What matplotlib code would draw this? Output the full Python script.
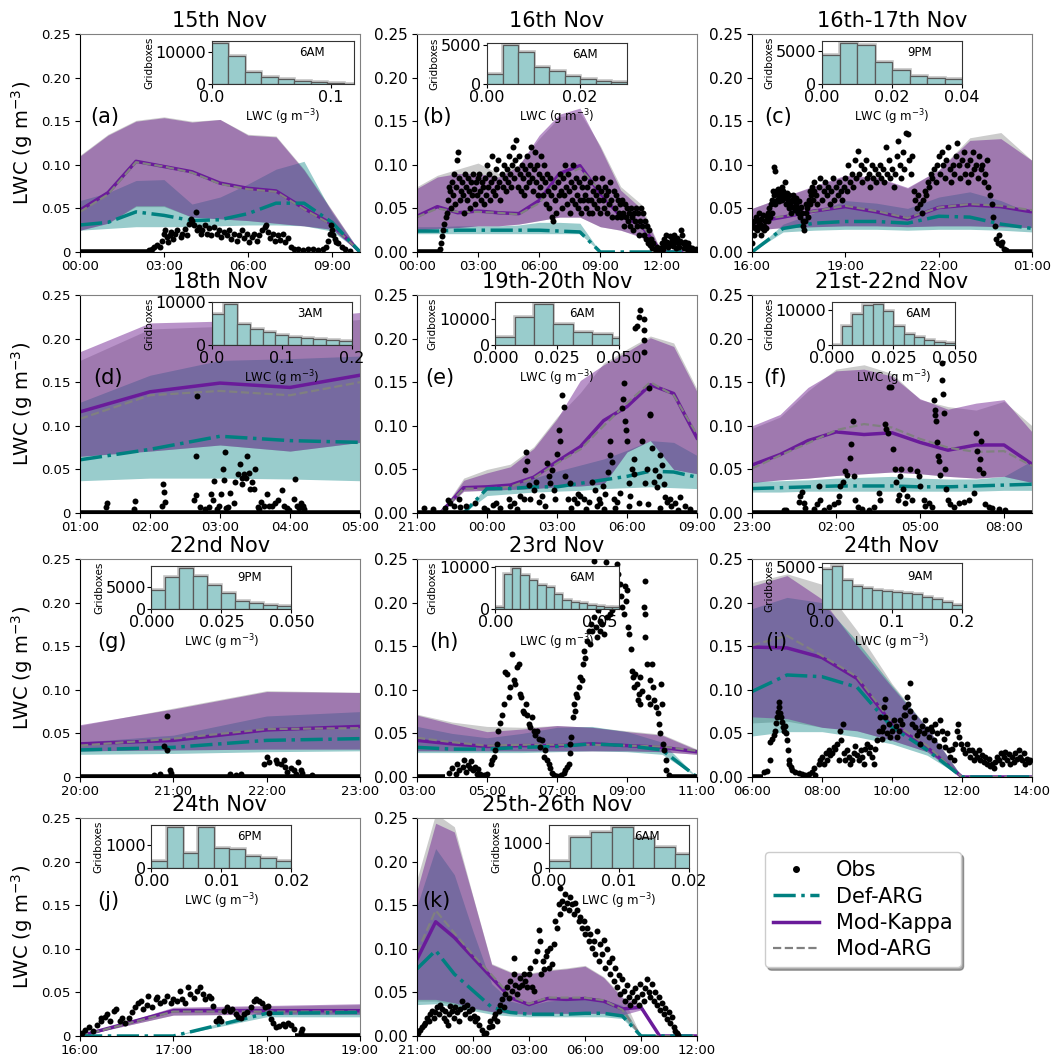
import numpy as np
import matplotlib.pyplot as plt
from matplotlib.lines import Line2D

# ---------------------------------------------------------------------------
# data: model series are hourly values starting at each panel's first hour
# (def = Def-ARG, kap = Mod-Kappa, arg = Mod-ARG; _lo/_hi = shaded range)
# obs = (hours since panel start, LWC); zero = spans where obs sit on 0
# ---------------------------------------------------------------------------
a_def = [0.031, 0.034, 0.046, 0.042, 0.036, 0.037, 0.044, 0.056, 0.056, 0.034, 0.0]
a_def_lo = [0.025, 0.027, 0.029, 0.029, 0.029, 0.030, 0.031, 0.031, 0.030, 0.024, 0.0]
a_def_hi = [0.059, 0.068, 0.082, 0.083, 0.055, 0.063, 0.078, 0.095, 0.104, 0.045, 0.0]
a_kap = [0.048, 0.068, 0.104, 0.098, 0.092, 0.079, 0.073, 0.070, 0.050, 0.032, 0.0]
a_kap_lo = [0.025, 0.033, 0.053, 0.053, 0.040, 0.038, 0.036, 0.033, 0.030, 0.026, 0.0]
a_kap_hi = [0.110, 0.134, 0.150, 0.154, 0.149, 0.152, 0.134, 0.132, 0.094, 0.047, 0.0]
a_arg = [0.046, 0.066, 0.103, 0.098, 0.091, 0.078, 0.072, 0.069, 0.049, 0.031, 0.0]
a_arg_lo = [0.025, 0.033, 0.052, 0.052, 0.040, 0.038, 0.036, 0.033, 0.030, 0.026, 0.0]
a_arg_hi = [0.111, 0.135, 0.151, 0.155, 0.150, 0.152, 0.135, 0.133, 0.095, 0.048, 0.0]
a_zero = [(0, 2.6)]
a_obs = [(2.46, .002), (2.57, .004), (2.66, .006), (2.75, .008), (2.85, .006), (2.93, .013),
         (2.99, .021), (3.03, .025), (3.09, .017), (3.15, .011), (3.21, .019), (3.26, .023),
         (3.33, .015), (3.41, .021), (3.47, .025), (3.59, .017), (3.65, .021), (3.74, .026),
         (3.81, .019), (3.89, .032), (3.95, .038), (4.01, .036), (4.07, .031), (4.13, .046),
         (4.17, .025), (4.25, .029), (4.31, .021), (4.37, .025), (4.46, .031), (4.53, .021),
         (4.61, .027), (4.69, .019), (4.79, .029), (4.89, .021), (4.97, .025), (5.05, .017),
         (5.15, .023), (5.25, .019), (5.33, .025), (5.41, .015), (5.51, .021), (5.6, .013),
         (5.69, .019), (5.77, .025), (5.87, .016), (5.96, .021), (6.05, .011), (6.13, .017),
         (6.23, .021), (6.32, .013), (6.41, .019), (6.49, .025), (6.59, .029), (6.65, .031),
         (6.71, .023), (6.8, .016), (6.89, .021), (6.97, .013), (7.07, .019), (7.16, .014),
         (7.25, .021), (7.33, .011), (7.43, .016), (7.52, .006), (7.64, .003), (7.78, .004),
         (7.96, .002), (8.14, .003), (8.32, .004), (8.5, .002), (8.68, .004), (8.8, .006),
         (8.86, .013), (8.92, .021), (8.96, .031), (9.01, .025), (9.05, .019), (9.1, .015),
         (9.16, .011), (9.22, .01), (9.34, .006), (9.46, .004), (9.64, .001)]
a_hist = [12800, 8600, 3700, 2100, 1600, 1050, 740, 320, 100]

b_def = [0.024, 0.024, 0.025, 0.025, 0.025, 0.025, 0.025, 0.024, 0.023, 0.0, 0.0, 0.0, 0.0, 0.0]
b_def_lo = [0.021, 0.021, 0.021, 0.021, 0.021, 0.021, 0.021, 0.021, 0.021, 0.0, 0.0, 0.0, 0.0, 0.0]
b_def_hi = [0.029, 0.029, 0.030, 0.030, 0.030, 0.031, 0.034, 0.034, 0.033, 0.0, 0.0, 0.0, 0.0, 0.0]
b_kap = [0.041, 0.052, 0.045, 0.047, 0.045, 0.044, 0.059, 0.090, 0.099, 0.067, 0.041, 0.031, 0.0, 0.0]
b_kap_lo = [0.025, 0.027, 0.028, 0.030, 0.030, 0.032, 0.036, 0.040, 0.040, 0.029, 0.025, 0.017, 0.0, 0.0]
b_kap_hi = [0.073, 0.086, 0.090, 0.090, 0.086, 0.099, 0.134, 0.158, 0.165, 0.120, 0.071, 0.050, 0.0, 0.0]
b_arg = [0.040, 0.050, 0.046, 0.046, 0.045, 0.043, 0.056, 0.086, 0.096, 0.070, 0.044, 0.033, 0.0, 0.0]
b_arg_lo = [0.025, 0.027, 0.028, 0.030, 0.030, 0.032, 0.036, 0.040, 0.040, 0.029, 0.025, 0.018, 0.0, 0.0]
b_arg_hi = [0.075, 0.088, 0.095, 0.102, 0.090, 0.100, 0.130, 0.155, 0.160, 0.122, 0.075, 0.055, 0.0, 0.0]
b_zero = [(0, 1.15)]
b_obs = [(1.15, .003), (1.2, .01), (1.25, .018), (1.3, .025), (1.35, .032), (1.4, .04), (1.45, .045),
         (1.5, .06), (1.55, .075), (1.6, .07), (1.65, .05), (1.7, .08), (1.75, .065), (1.8, .09),
         (1.85, .055), (1.9, .075), (1.95, .105), (2.0, .115), (2.05, .085), (2.1, .06), (2.15, .07),
         (2.2, .08), (2.25, .065), (2.3, .045), (2.35, .09), (2.4, .075), (2.45, .06), (2.5, .085),
         (2.55, .07), (2.6, .05), (2.65, .08), (2.7, .065), (2.75, .09), (2.8, .072), (2.85, .055),
         (2.9, .08), (2.95, .065), (3.0, .085), (3.05, .09), (3.1, .07), (3.15, .06), (3.2, .08),
         (3.25, .075), (3.3, .055), (3.35, .085), (3.4, .065), (3.45, .1), (3.5, .075), (3.55, .09),
         (3.6, .06), (3.65, .08), (3.7, .11), (3.75, .07), (3.8, .085), (3.85, .065), (3.9, .095),
         (3.95, .075), (4.0, .105), (4.05, .08), (4.1, .06), (4.15, .09), (4.2, .075), (4.25, .1),
         (4.3, .085), (4.35, .07), (4.4, .095), (4.45, .08), (4.5, .11), (4.55, .09), (4.6, .075),
         (4.65, .1), (4.7, .12), (4.75, .085), (4.8, .105), (4.85, .128), (4.9, .095), (4.95, .075),
         (5.0, .11), (5.05, .09), (5.1, .07), (5.15, .1), (5.2, .085), (5.25, .065), (5.3, .095),
         (5.35, .075), (5.4, .11), (5.45, .09), (5.5, .08), (5.55, .1), (5.6, .12), (5.65, .085),
         (5.7, .07), (5.75, .095), (5.8, .115), (5.85, .08), (5.9, .1), (5.95, .065), (6.0, .09),
         (6.05, .075), (6.1, .11), (6.15, .085), (6.2, .065), (6.25, .1), (6.3, .08), (6.35, .055),
         (6.4, .09), (6.45, .07), (6.5, .05), (6.55, .085), (6.6, .065), (6.65, .04), (6.7, .035),
         (6.75, .075), (6.8, .06), (6.85, .045), (6.9, .08), (6.95, .065), (7.0, .09), (7.05, .07),
         (7.1, .05), (7.15, .085), (7.2, .065), (7.25, .1), (7.3, .075), (7.35, .055), (7.4, .09),
         (7.45, .07), (7.5, .045), (7.55, .08), (7.6, .06), (7.65, .1), (7.7, .075), (7.75, .055),
         (7.8, .085), (7.85, .065), (7.9, .05), (7.95, .08), (8.0, .06), (8.05, .045), (8.1, .075),
         (8.15, .06), (8.2, .085), (8.25, .065), (8.3, .05), (8.35, .075), (8.4, .06), (8.45, .045),
         (8.5, .08), (8.55, .06), (8.6, .045), (8.65, .07), (8.7, .055), (8.75, .085), (8.8, .065),
         (8.85, .05), (8.9, .075), (8.95, .06), (9.0, .045), (9.05, .07), (9.1, .085), (9.15, .06),
         (9.2, .05), (9.25, .075), (9.3, .065), (9.35, .045), (9.4, .07), (9.45, .055), (9.5, .08),
         (9.55, .06), (9.6, .04), (9.65, .07), (9.7, .05), (9.75, .065), (9.8, .04), (9.85, .06),
         (9.9, .045), (9.95, .055), (10.0, .04), (10.05, .06), (10.1, .045), (10.15, .03),
         (10.2, .055), (10.25, .04), (10.3, .05), (10.35, .035), (10.4, .045), (10.45, .03),
         (10.5, .05), (10.55, .04), (10.6, .025), (10.65, .045), (10.7, .035), (10.75, .05),
         (10.8, .03), (10.85, .045), (10.9, .02), (10.95, .035), (11.0, .05), (11.05, .03),
         (11.1, .045), (11.15, .02), (11.2, .035), (11.25, .015), (11.3, .03), (11.35, .01),
         (11.4, .025), (11.45, .008), (11.5, .015), (11.55, .005), (11.6, .01), (11.7, .003),
         (11.8, .006), (11.9, .002), (12.0, .005), (12.05, .01), (12.1, .004), (12.15, .015),
         (12.2, .008), (12.25, .02), (12.3, .012), (12.35, .006), (12.4, .018), (12.45, .01),
         (12.5, .015), (12.55, .007), (12.6, .02), (12.65, .012), (12.7, .005), (12.75, .016),
         (12.8, .01), (12.85, .006), (12.9, .013), (12.95, .025), (13.0, .02), (13.05, .01),
         (13.1, .005), (13.15, .012), (13.2, .008), (13.25, .004), (13.3, .01), (13.35, .006),
         (13.4, .003), (13.5, .005), (13.6, .002), (13.7, .004)]
b_hist = [1240, 5000, 4100, 2200, 1640, 1000, 680, 440, 320]

c_def = [0.0, 0.027, 0.033, 0.035, 0.035, 0.033, 0.041, 0.040, 0.032, 0.027]
c_def_lo = [0.0, 0.023, 0.025, 0.026, 0.026, 0.025, 0.026, 0.026, 0.025, 0.023]
c_def_hi = [0.0, 0.032, 0.045, 0.059, 0.056, 0.050, 0.063, 0.069, 0.059, 0.044]
c_kap = [0.034, 0.040, 0.047, 0.052, 0.046, 0.038, 0.051, 0.054, 0.052, 0.046]
c_kap_lo = [0.025, 0.028, 0.029, 0.030, 0.030, 0.029, 0.030, 0.030, 0.029, 0.028]
c_kap_hi = [0.050, 0.063, 0.076, 0.088, 0.086, 0.074, 0.094, 0.128, 0.130, 0.105]
c_arg = [0.036, 0.041, 0.047, 0.053, 0.047, 0.039, 0.051, 0.055, 0.053, 0.048]
c_arg_lo = [0.025, 0.028, 0.029, 0.030, 0.030, 0.029, 0.030, 0.030, 0.029, 0.028]
c_arg_hi = [0.050, 0.063, 0.075, 0.087, 0.085, 0.073, 0.094, 0.131, 0.137, 0.105]
c_zero = [(8.2, 9.0)]
c_obs = [(0.0, .01), (0.02, .03), (0.05, .02), (0.08, .035), (0.1, .028), (0.12, .04), (0.15, .025),
         (0.18, .035), (0.2, .03), (0.22, .045), (0.25, .032), (0.28, .02), (0.3, .038), (0.33, .028),
         (0.35, .042), (0.38, .03), (0.4, .025), (0.43, .035), (0.45, .028), (0.48, .04), (0.5, .045),
         (0.53, .035), (0.55, .05), (0.58, .04), (0.6, .055), (0.63, .045), (0.65, .06), (0.68, .07),
         (0.7, .065), (0.72, .098), (0.73, .093), (0.75, .055), (0.78, .07), (0.8, .06), (0.83, .072),
         (0.85, .065), (0.88, .058), (0.9, .068), (0.93, .062), (0.95, .075), (0.98, .06), (1.0, .07),
         (1.03, .065), (1.05, .08), (1.08, .062), (1.1, .055), (1.13, .068), (1.15, .06), (1.18, .05),
         (1.2, .065), (1.23, .055), (1.25, .045), (1.28, .06), (1.3, .052), (1.33, .065), (1.35, .058),
         (1.38, .048), (1.4, .055), (1.43, .062), (1.45, .05), (1.48, .045), (1.5, .058), (1.53, .05),
         (1.55, .04), (1.58, .052), (1.6, .045), (1.63, .035), (1.65, .03), (1.68, .025), (1.7, .035),
         (1.73, .045), (1.75, .055), (1.78, .05), (1.8, .04), (1.83, .06), (1.85, .07), (1.88, .055),
         (1.9, .065), (1.93, .075), (1.95, .06), (1.98, .07), (2.0, .08), (2.05, .065), (2.1, .055),
         (2.15, .075), (2.2, .085), (2.25, .06), (2.3, .07), (2.35, .08), (2.4, .065), (2.45, .075),
         (2.5, .055), (2.55, .07), (2.6, .085), (2.65, .06), (2.7, .075), (2.75, .065), (2.8, .08),
         (2.85, .07), (2.9, .06), (2.95, .075), (3.0, .085), (3.05, .07), (3.1, .1), (3.15, .08),
         (3.2, .09), (3.25, .075), (3.3, .105), (3.35, .085), (3.4, .116), (3.45, .09), (3.5, .1),
         (3.55, .08), (3.6, .095), (3.65, .105), (3.7, .085), (3.75, .09), (3.8, .075), (3.85, .1),
         (3.9, .085), (3.95, .095), (4.0, .08), (4.05, .09), (4.1, .1), (4.15, .085), (4.2, .095),
         (4.25, .08), (4.3, .12), (4.35, .09), (4.4, .105), (4.45, .085), (4.5, .095), (4.55, .075),
         (4.6, .09), (4.65, .11), (4.7, .127), (4.75, .1), (4.8, .085), (4.85, .115), (4.9, .095),
         (4.95, .137), (5.0, .135), (5.05, .105), (5.1, .09), (5.15, .11), (5.2, .07), (5.25, .06),
         (5.3, .05), (5.35, .065), (5.4, .055), (5.45, .045), (5.5, .06), (5.55, .07), (5.6, .065),
         (5.65, .08), (5.7, .075), (5.75, .09), (5.8, .085), (5.85, .095), (5.9, .08), (5.95, .1),
         (6.0, .11), (6.05, .09), (6.1, .115), (6.15, .1), (6.2, .085), (6.25, .105), (6.3, .12),
         (6.35, .095), (6.4, .08), (6.45, .1), (6.5, .09), (6.55, .11), (6.6, .125), (6.65, .1),
         (6.7, .085), (6.75, .105), (6.8, .115), (6.85, .09), (6.9, .1), (6.95, .08), (7.0, .105),
         (7.05, .09), (7.1, .115), (7.15, .095), (7.2, .1), (7.25, .085), (7.3, .11), (7.35, .095),
         (7.4, .1), (7.45, .08), (7.5, .09), (7.55, .105), (7.6, .075), (7.65, .065), (7.7, .055),
         (7.75, .04), (7.8, .03), (7.85, .015), (7.9, .01), (7.95, .02), (8.0, .008), (8.05, .012),
         (8.1, .004), (8.15, .002)]
c_hist = [4400, 6250, 5900, 3400, 2100, 1260, 860, 700]

d_def = [0.061, 0.073, 0.088, 0.083, 0.081]
d_def_lo = [0.037, 0.040, 0.040, 0.039, 0.037]
d_def_hi = [0.127, 0.158, 0.175, 0.177, 0.180]
d_kap = [0.116, 0.139, 0.149, 0.144, 0.158]
d_kap_lo = [0.065, 0.071, 0.078, 0.071, 0.081]
d_kap_hi = [0.185, 0.218, 0.220, 0.222, 0.230]
d_arg = [0.108, 0.135, 0.140, 0.135, 0.150]
d_arg_lo = [0.065, 0.071, 0.078, 0.071, 0.081]
d_arg_hi = [0.175, 0.211, 0.214, 0.215, 0.222]
d_zero = [(0, 4)]
d_obs = [(0.37, .007), (0.38, .012), (0.77, .005), (0.78, .014), (1.17, .008), (1.18, .033),
         (1.2, .024), (1.22, .013), (1.63, .015), (1.65, .021), (1.65, .065), (1.67, .134),
         (1.72, .007), (1.79, .005), (1.84, .007), (1.87, .022), (1.9, .015), (1.91, .037),
         (1.95, .005), (1.99, .008), (2.01, .022), (2.04, .051), (2.05, .038), (2.07, .07),
         (2.08, .006), (2.11, .007), (2.14, .023), (2.2, .012), (2.22, .035), (2.26, .045),
         (2.29, .056), (2.31, .04), (2.32, .033), (2.34, .045), (2.37, .04), (2.39, .065),
         (2.42, .046), (2.43, .027), (2.45, .035), (2.48, .027), (2.5, .051), (2.54, .007),
         (2.56, .005), (2.58, .013), (2.63, .008), (2.67, .022), (2.7, .008), (2.74, .008),
         (2.78, .012), (2.83, .015), (2.89, .026), (2.92, .008), (2.96, .006), (2.99, .003),
         (3.05, .016), (3.07, .039), (3.1, .008), (3.13, .006), (3.16, .011), (3.18, .008), (3.2, .005)]
d_hist = [7200, 9600, 4900, 3750, 3100, 2400, 1800, 1560, 1400, 1250, 1000]

e_def = [0.0, 0.0, 0.0, 0.028, 0.028, 0.030, 0.030, 0.034, 0.038, 0.042, 0.048, 0.047, 0.041]
e_def_lo = [0.0, 0.0, 0.0, 0.020, 0.022, 0.024, 0.025, 0.026, 0.028, 0.029, 0.030, 0.029, 0.028]
e_def_hi = [0.0, 0.0, 0.0, 0.031, 0.034, 0.040, 0.048, 0.055, 0.062, 0.072, 0.083, 0.081, 0.066]
e_kap = [0.0, 0.0, 0.029, 0.030, 0.032, 0.041, 0.059, 0.076, 0.106, 0.122, 0.147, 0.137, 0.086]
e_kap_lo = [0.0, 0.0, 0.025, 0.026, 0.027, 0.028, 0.030, 0.031, 0.033, 0.070, 0.083, 0.050, 0.045]
e_kap_hi = [0.0, 0.0, 0.0375, 0.046, 0.053, 0.074, 0.108, 0.152, 0.170, 0.185, 0.201, 0.191, 0.139]
e_arg = [0.0, 0.0, 0.028, 0.028, 0.030, 0.040, 0.057, 0.073, 0.100, 0.126, 0.150, 0.135, 0.090]
e_arg_lo = [0.0, 0.0, 0.025, 0.026, 0.027, 0.028, 0.030, 0.031, 0.033, 0.070, 0.083, 0.050, 0.045]
e_arg_hi = [0.0, 0.0, 0.040, 0.050, 0.056, 0.076, 0.110, 0.138, 0.172, 0.188, 0.203, 0.195, 0.142]
e_zero = [(0, 12)]
e_obs = [(0.29, .006), (0.69, .005), (1.21, .006), (1.31, .015), (1.43, .011), (1.57, .008),
         (1.79, .016), (1.86, .007), (2.11, .008), (2.5, .011), (2.86, .006), (3.0, .004),
         (3.26, .009), (3.4, .012), (3.57, .006), (3.93, .016), (4.0, .008), (4.14, .011),
         (4.3, .005), (4.4, .02), (4.57, .016), (4.64, .049), (4.67, .07), (4.71, .06), (4.79, .032),
         (4.86, .016), (5.0, .026), (5.11, .036), (5.21, .013), (5.36, .02), (5.5, .008),
         (5.57, .057), (5.64, .043), (5.69, .034), (5.79, .049), (5.86, .026), (5.93, .016),
         (6.0, .068), (6.09, .095), (6.14, .082), (6.23, .135), (6.29, .122), (6.36, .043),
         (6.46, .016), (6.57, .034), (6.6, .006), (6.71, .016), (6.86, .011), (6.9, .022),
         (7.0, .02), (7.17, .016), (7.25, .005), (7.36, .013), (7.5, .036), (7.64, .026),
         (7.7, .008), (7.79, .016), (7.86, .011), (7.97, .031), (8.0, .005), (8.07, .022),
         (8.17, .047), (8.26, .066), (8.29, .082), (8.36, .058), (8.43, .016), (8.5, .006),
         (8.57, .013), (8.71, .023), (8.79, .12), (8.83, .131), (8.86, .149), (8.93, .106),
         (8.97, .095), (9.0, .082), (9.07, .034), (9.1, .008), (9.14, .02), (9.21, .051),
         (9.29, .062), (9.31, .045), (9.36, .212), (9.43, .214), (9.5, .225), (9.5, .012),
         (9.54, .233), (9.64, .082), (9.71, .21), (9.71, .185), (9.74, .223), (9.74, .198),
         (9.79, .034), (9.86, .051), (9.9, .01), (9.93, .143), (9.97, .114), (10.0, .112),
         (10.07, .074), (10.14, .036), (10.21, .049), (10.29, .03), (10.36, .043), (10.4, .006),
         (10.43, .066), (10.5, .055), (10.57, .033), (10.64, .018), (10.71, .013), (10.86, .016),
         (10.9, .008), (11.07, .011), (11.2, .004), (11.29, .018), (11.5, .008), (11.71, .005)]
e_hist = [3200, 10900, 16000, 8300, 4900, 4100, 2800]

f_def = [0.028, 0.029, 0.030, 0.031, 0.031, 0.031, 0.030, 0.030, 0.031, 0.032, 0.033]
f_def_lo = [0.024, 0.024, 0.025, 0.025, 0.025, 0.025, 0.025, 0.025, 0.025, 0.026, 0.026]
f_def_hi = [0.036, 0.037, 0.038, 0.040, 0.041, 0.042, 0.040, 0.039, 0.039, 0.042, 0.060]
f_kap = [0.055, 0.067, 0.083, 0.093, 0.090, 0.092, 0.081, 0.072, 0.078, 0.078, 0.056]
f_kap_lo = [0.035, 0.038, 0.040, 0.043, 0.045, 0.047, 0.045, 0.042, 0.040, 0.042, 0.035]
f_kap_hi = [0.100, 0.113, 0.144, 0.163, 0.165, 0.157, 0.131, 0.119, 0.126, 0.130, 0.093]
f_arg = [0.051, 0.066, 0.080, 0.095, 0.102, 0.098, 0.085, 0.075, 0.070, 0.071, 0.054]
f_arg_lo = [0.035, 0.038, 0.040, 0.043, 0.045, 0.047, 0.045, 0.042, 0.040, 0.042, 0.035]
f_arg_hi = [0.097, 0.110, 0.140, 0.165, 0.170, 0.160, 0.130, 0.122, 0.118, 0.128, 0.100]
f_zero = [(0, 10)]
f_obs = [(1.13, .003), (1.21, .004), (1.67, .013), (1.73, .019), (1.79, .024), (1.85, .012),
         (1.9, .006), (2.2, .005), (2.32, .01), (2.38, .031), (2.44, .015), (2.56, .004),
         (2.74, .007), (2.92, .01), (3.07, .013), (3.1, .019), (3.15, .031), (3.24, .035),
         (3.33, .048), (3.39, .044), (3.51, .063), (3.55, .079), (3.6, .105), (3.63, .042),
         (3.69, .015), (3.79, .007), (3.93, .005), (4.17, .004), (4.35, .007), (4.52, .023),
         (4.58, .015), (4.76, .102), (4.8, .096), (4.86, .092), (4.9, .144), (4.98, .144),
         (5.02, .073), (5.1, .05), (5.14, .035), (5.2, .015), (5.24, .021), (5.3, .042),
         (5.33, .05), (5.38, .027), (5.45, .012), (5.54, .019), (5.65, .05), (5.71, .015),
         (5.89, .048), (5.95, .042), (6.01, .031), (6.13, .015), (6.19, .008), (6.31, .012),
         (6.43, .007), (6.49, .13), (6.52, .118), (6.55, .112), (6.57, .106), (6.61, .081),
         (6.64, .065), (6.69, .06), (6.73, .044), (6.79, .172), (6.79, .152), (6.81, .137),
         (6.85, .115), (6.88, .05), (6.93, .027), (7.0, .015), (7.08, .01), (7.2, .007),
         (7.38, .012), (7.56, .013), (7.74, .015), (7.92, .023), (8.0, .092), (8.04, .071),
         (8.1, .05), (8.15, .062), (8.19, .083), (8.24, .046), (8.31, .01), (8.45, .007),
         (8.57, .006), (8.81, .005), (9.05, .003)]
f_hist = [0, 5500, 8800, 11400, 11900, 9700, 5400, 3200, 2200, 1450, 800, 500]

g_def = [0.031, 0.034, 0.042, 0.044]
g_def_lo = [0.026, 0.027, 0.029, 0.030]
g_def_hi = [0.040, 0.048, 0.070, 0.075]
g_kap = [0.038, 0.042, 0.054, 0.058]
g_kap_lo = [0.030, 0.031, 0.032, 0.032]
g_kap_hi = [0.060, 0.078, 0.098, 0.097]
g_arg = [0.036, 0.044, 0.055, 0.056]
g_arg_lo = [0.030, 0.031, 0.032, 0.032]
g_arg_hi = [0.059, 0.079, 0.099, 0.097]
g_zero = [(0, 3)]
g_obs = [(0.79, .002), (0.86, .003), (0.9, .035), (0.93, .031), (0.93, .07), (0.96, .008),
         (0.97, .005), (1.61, .004), (1.67, .002), (1.72, .004), (1.97, .015), (2.0, .023),
         (2.02, .017), (2.1, .019), (2.11, .016), (2.15, .015), (2.19, .019), (2.2, .012),
         (2.22, .006), (2.26, .01), (2.29, .008), (2.31, .004), (2.34, .017), (2.37, .008),
         (2.38, .005), (2.49, .002)]
g_hist = [4260, 7200, 9260, 7350, 5370, 3530, 1900, 1320, 950, 740]

h_def = [0.034, 0.032, 0.032, 0.034, 0.035, 0.038, 0.036, 0.031, 0.0]
h_def_lo = [0.028, 0.028, 0.028, 0.028, 0.029, 0.030, 0.029, 0.026, 0.0]
h_def_hi = [0.058, 0.050, 0.045, 0.050, 0.057, 0.058, 0.052, 0.040, 0.0]
h_kap = [0.042, 0.038, 0.035, 0.036, 0.036, 0.038, 0.036, 0.034, 0.029]
h_kap_lo = [0.030, 0.030, 0.030, 0.030, 0.030, 0.030, 0.030, 0.029, 0.026]
h_kap_hi = [0.071, 0.061, 0.052, 0.055, 0.059, 0.057, 0.052, 0.048, 0.031]
h_arg = [0.045, 0.040, 0.036, 0.037, 0.037, 0.037, 0.036, 0.035, 0.030]
h_arg_lo = [0.030, 0.030, 0.030, 0.030, 0.030, 0.030, 0.030, 0.029, 0.026]
h_arg_hi = [0.072, 0.063, 0.058, 0.057, 0.059, 0.057, 0.053, 0.049, 0.032]
h_zero = [(0, 0.8), (7.25, 8)]
h_obs = [(0.9, .005), (1.0, .01), (1.1, .004), (1.15, .015), (1.2, .008), (1.3, .012), (1.35, .02),
         (1.4, .006), (1.45, .014), (1.5, .01), (1.55, .018), (1.6, .008), (1.65, .012), (1.7, .004),
         (1.75, .009), (1.8, .003), (1.9, .002), (2.0, .004), (2.1, .015), (2.14, .019), (2.19, .023),
         (2.24, .031), (2.29, .038), (2.3, .053), (2.36, .062), (2.43, .071), (2.48, .084), (2.5, .12),
         (2.57, .118), (2.62, .092), (2.67, .103), (2.71, .141), (2.76, .111), (2.81, .107),
         (2.86, .126), (2.9, .13), (2.93, .095), (2.98, .092), (3.03, .076), (3.05, .073),
         (3.1, .084), (3.14, .071), (3.19, .061), (3.24, .057), (3.29, .069), (3.33, .053),
         (3.38, .048), (3.43, .053), (3.48, .044), (3.52, .034), (3.57, .042), (3.62, .023),
         (3.67, .031), (3.71, .019), (3.76, .015), (3.81, .01), (3.86, .005), (3.9, .002),
         (4.0, .001), (4.1, .002), (4.19, .005), (4.24, .008), (4.29, .011), (4.33, .015),
         (4.36, .027), (4.38, .038), (4.41, .046), (4.46, .069), (4.48, .084), (4.52, .076),
         (4.55, .095), (4.57, .092), (4.62, .103), (4.67, .115), (4.71, .111), (4.74, .13),
         (4.78, .145), (4.81, .137), (4.86, .156), (4.9, .168), (4.93, .153), (4.97, .176),
         (5.0, .168), (5.05, .183), (5.05, .248), (5.1, .172), (5.14, .16), (5.16, .191),
         (5.22, .179), (5.24, .168), (5.29, .176), (5.33, .164), (5.41, .247), (5.43, .183),
         (5.48, .198), (5.52, .187), (5.57, .191), (5.62, .206), (5.7, .244), (5.73, .233),
         (5.79, .221), (5.83, .208), (5.86, .195), (5.9, .187), (5.95, .219), (5.98, .202),
         (6.0, .214), (6.02, .172), (6.05, .164), (6.1, .147), (6.14, .122), (6.17, .115),
         (6.19, .103), (6.24, .118), (6.29, .107), (6.3, .088), (6.33, .095), (6.36, .084),
         (6.38, .115), (6.43, .099), (6.48, .195), (6.5, .225), (6.52, .187), (6.52, .16),
         (6.57, .13), (6.59, .092), (6.65, .111), (6.67, .084), (6.71, .13), (6.74, .103),
         (6.78, .088), (6.84, .08), (6.88, .073), (6.91, .061), (6.95, .05), (6.98, .107),
         (7.0, .084), (7.03, .038), (7.07, .031), (7.1, .019), (7.12, .008), (7.19, .002)]
h_hist = [400, 8200, 9800, 8000, 6800, 5800, 5200, 3600, 2200, 1600, 1360, 1040, 800, 560, 400]

i_def = [0.098, 0.117, 0.115, 0.103, 0.057, 0.031, 0.0, 0.0, 0.0]
i_def_lo = [0.047, 0.052, 0.052, 0.046, 0.038, 0.025, 0.0, 0.0, 0.0]
i_def_hi = [0.193, 0.206, 0.200, 0.156, 0.105, 0.057, 0.0, 0.0, 0.0]
i_kap = [0.149, 0.148, 0.137, 0.113, 0.061, 0.034, 0.0, 0.0, 0.0]
i_kap_lo = [0.069, 0.067, 0.057, 0.053, 0.042, 0.029, 0.0, 0.0, 0.0]
i_kap_hi = [0.219, 0.231, 0.204, 0.151, 0.103, 0.057, 0.0, 0.0, 0.0]
i_arg = [0.151, 0.162, 0.139, 0.115, 0.063, 0.036, 0.0, 0.0, 0.0]
i_arg_lo = [0.062, 0.064, 0.057, 0.053, 0.042, 0.029, 0.0, 0.0, 0.0]
i_arg_hi = [0.223, 0.233, 0.221, 0.168, 0.107, 0.057, 0.0, 0.0, 0.0]
i_zero = [(0, 0.3)]
i_obs = [(0.33, .006), (0.43, .007), (0.5, .019), (0.52, .04), (0.57, .044), (0.62, .048),
         (0.67, .053), (0.69, .062), (0.71, .069), (0.74, .074), (0.76, .086), (0.78, .08),
         (0.81, .073), (0.84, .069), (0.86, .063), (0.89, .057), (0.91, .053), (0.93, .059),
         (0.97, .05), (1.0, .042), (1.03, .031), (1.05, .019), (1.07, .015), (1.1, .011),
         (1.14, .008), (1.24, .006), (1.33, .005), (1.43, .003), (1.52, .002), (1.62, .004),
         (1.71, .006), (1.76, .01), (1.81, .002), (1.9, .015), (1.95, .019), (2.0, .023),
         (2.05, .015), (2.1, .027), (2.14, .019), (2.19, .031), (2.24, .025), (2.29, .027),
         (2.33, .034), (2.38, .032), (2.43, .038), (2.48, .019), (2.52, .053), (2.55, .042),
         (2.59, .061), (2.62, .027), (2.67, .019), (2.71, .031), (2.76, .023), (2.81, .015),
         (2.86, .019), (2.9, .027), (2.95, .036), (3.0, .025), (3.05, .019), (3.1, .031),
         (3.14, .023), (3.19, .015), (3.24, .032), (3.29, .038), (3.33, .027), (3.38, .034),
         (3.43, .023), (3.48, .015), (3.52, .032), (3.57, .042), (3.62, .053), (3.67, .069),
         (3.7, .053), (3.71, .044), (3.73, .057), (3.76, .08), (3.79, .09), (3.81, .069),
         (3.86, .05), (3.9, .061), (3.95, .046), (4.0, .053), (4.05, .065), (4.1, .059),
         (4.14, .046), (4.19, .053), (4.24, .065), (4.29, .061), (4.33, .071), (4.36, .08),
         (4.38, .071), (4.43, .092), (4.46, .084), (4.5, .108), (4.52, .076), (4.57, .061),
         (4.62, .069), (4.67, .057), (4.71, .048), (4.76, .053), (4.81, .038), (4.86, .059),
         (4.9, .05), (4.95, .065), (5.0, .055), (5.05, .046), (5.1, .057), (5.14, .053),
         (5.19, .042), (5.24, .061), (5.29, .05), (5.33, .036), (5.38, .065), (5.43, .053),
         (5.48, .044), (5.52, .034), (5.57, .05), (5.62, .031), (5.67, .023), (5.71, .032),
         (5.76, .019), (5.81, .038), (5.86, .053), (5.89, .061), (5.92, .046), (5.98, .038),
         (6.02, .032), (6.08, .027), (6.14, .038), (6.19, .031), (6.24, .023), (6.29, .031),
         (6.33, .019), (6.38, .027), (6.43, .023), (6.48, .031), (6.52, .019), (6.57, .025),
         (6.62, .017), (6.67, .023), (6.71, .015), (6.76, .021), (6.81, .013), (6.86, .015),
         (6.9, .01), (6.95, .017), (7.0, .023), (7.05, .019), (7.1, .027), (7.14, .015),
         (7.19, .023), (7.24, .029), (7.29, .019), (7.33, .026), (7.38, .015), (7.43, .023),
         (7.48, .017), (7.52, .027), (7.57, .021), (7.62, .031), (7.67, .023), (7.71, .019),
         (7.76, .027), (7.81, .015), (7.86, .021), (7.9, .017), (7.95, .019)]
i_hist = [4750, 5200, 3430, 2800, 2480, 2270, 2190, 2100, 1980, 1780, 1450, 1160, 830, 540]

j_def = [0.0, 0.0, 0.026, 0.027]
j_def_lo = [0.0, 0.0, 0.022, 0.022]
j_def_hi = [0.0, 0.0, 0.030, 0.031]
j_kap = [0.0, 0.029, 0.029, 0.029]
j_kap_lo = [0.0, 0.024, 0.025, 0.025]
j_kap_hi = [0.0, 0.033, 0.035, 0.037]
j_arg = [0.0, 0.028, 0.028, 0.028]
j_arg_lo = [0.0, 0.024, 0.025, 0.025]
j_arg_hi = [0.0, 0.032, 0.034, 0.036]
j_zero = [(2.3, 3.0)]
j_obs = [(0.02, .004), (0.05, .007), (0.1, .01), (0.14, .006), (0.18, .013), (0.22, .021),
         (0.23, .017), (0.27, .022), (0.29, .025), (0.32, .017), (0.36, .029), (0.39, .031),
         (0.43, .017), (0.45, .021), (0.48, .015), (0.52, .021), (0.56, .027), (0.59, .033),
         (0.62, .038), (0.65, .04), (0.68, .031), (0.72, .036), (0.73, .046), (0.77, .033),
         (0.81, .042), (0.82, .045), (0.86, .038), (0.9, .04), (0.93, .046), (0.97, .038),
         (1.0, .042), (1.04, .04), (1.07, .052), (1.09, .042), (1.13, .038), (1.16, .056),
         (1.18, .048), (1.22, .044), (1.25, .052), (1.29, .056), (1.32, .048), (1.34, .042),
         (1.38, .046), (1.4, .044), (1.43, .034), (1.46, .017), (1.49, .021), (1.51, .017),
         (1.54, .029), (1.58, .033), (1.61, .029), (1.63, .031), (1.67, .025), (1.69, .022),
         (1.72, .021), (1.76, .025), (1.79, .028), (1.83, .033), (1.86, .04), (1.89, .042),
         (1.92, .04), (1.95, .038), (1.98, .033), (2.01, .034), (2.03, .026), (2.05, .019),
         (2.07, .015), (2.1, .01), (2.13, .011), (2.17, .014), (2.2, .011), (2.23, .015),
         (2.26, .013), (2.29, .008), (2.37, .005), (2.38, .008)]
j_hist = [320, 1770, 650, 1770, 870, 800, 520, 420, 290]

k_def = [0.077, 0.098, 0.071, 0.052, 0.033, 0.027, 0.025, 0.025, 0.025, 0.026, 0.026, 0.023, 0.0, 0.0, 0.0, 0.0]
k_def_lo = [0.036, 0.037, 0.033, 0.029, 0.025, 0.023, 0.022, 0.022, 0.022, 0.022, 0.022, 0.020, 0.0, 0.0, 0.0, 0.0]
k_def_hi = [0.149, 0.215, 0.185, 0.120, 0.060, 0.040, 0.035, 0.040, 0.042, 0.044, 0.042, 0.035, 0.0, 0.0, 0.0, 0.0]
k_kap = [0.088, 0.131, 0.113, 0.090, 0.067, 0.044, 0.036, 0.043, 0.042, 0.043, 0.040, 0.031, 0.033, 0.0, 0.0, 0.0]
k_kap_lo = [0.042, 0.042, 0.038, 0.032, 0.028, 0.026, 0.025, 0.026, 0.026, 0.026, 0.026, 0.024, 0.030, 0.0, 0.0, 0.0]
k_kap_hi = [0.167, 0.244, 0.234, 0.159, 0.082, 0.073, 0.071, 0.075, 0.077, 0.080, 0.067, 0.044, 0.036, 0.0, 0.0, 0.0]
k_arg = [0.096, 0.144, 0.118, 0.093, 0.070, 0.046, 0.037, 0.044, 0.044, 0.044, 0.041, 0.030, 0.0, 0.0, 0.0, 0.0]
k_arg_lo = [0.040, 0.040, 0.036, 0.031, 0.028, 0.026, 0.025, 0.026, 0.026, 0.026, 0.026, 0.022, 0.0, 0.0, 0.0, 0.0]
k_arg_hi = [0.180, 0.255, 0.240, 0.160, 0.083, 0.074, 0.072, 0.076, 0.078, 0.081, 0.068, 0.046, 0.0, 0.0, 0.0, 0.0]
k_zero = []
k_obs = [(0.04, .004), (0.14, .007), (0.27, .01), (0.36, .013), (0.45, .015), (0.54, .021),
         (0.63, .017), (0.71, .025), (0.8, .029), (0.89, .021), (0.98, .027), (1.07, .033),
         (1.16, .025), (1.25, .036), (1.34, .031), (1.43, .021), (1.52, .029), (1.57, .017),
         (1.64, .013), (1.7, .025), (1.79, .034), (1.88, .029), (1.96, .021), (2.05, .033),
         (2.14, .027), (2.23, .017), (2.32, .031), (2.41, .04), (2.5, .033), (2.59, .025),
         (2.68, .036), (2.77, .029), (2.86, .021), (2.95, .031), (3.04, .023), (3.13, .017),
         (3.21, .021), (3.3, .013), (3.48, .007), (3.61, .002), (3.71, .004), (3.84, .01),
         (3.93, .017), (4.02, .011), (4.11, .021), (4.2, .025), (4.29, .017), (4.38, .029),
         (4.46, .036), (4.55, .042), (4.64, .033), (4.73, .048), (4.82, .056), (4.91, .044),
         (5.0, .063), (5.09, .052), (5.18, .071), (5.21, .09), (5.27, .059), (5.36, .048),
         (5.45, .056), (5.54, .067), (5.63, .059), (5.71, .071), (5.8, .063), (5.89, .056),
         (5.98, .071), (6.07, .078), (6.16, .056), (6.25, .052), (6.34, .086), (6.43, .098),
         (6.52, .121), (6.57, .109), (6.64, .071), (6.75, .086), (6.82, .077), (6.89, .092),
         (6.96, .098), (7.05, .078), (7.14, .101), (7.23, .082), (7.32, .105), (7.41, .132),
         (7.5, .124), (7.59, .151), (7.64, .17), (7.68, .14), (7.77, .155), (7.86, .147),
         (7.95, .163), (8.04, .153), (8.13, .144), (8.21, .159), (8.3, .151), (8.39, .14),
         (8.48, .153), (8.57, .144), (8.66, .132), (8.75, .136), (8.84, .124), (8.93, .132),
         (9.02, .117), (9.11, .124), (9.2, .109), (9.29, .117), (9.38, .101), (9.46, .109),
         (9.55, .094), (9.64, .12), (9.73, .086), (9.82, .105), (9.91, .094), (10.0, .11),
         (10.09, .078), (10.18, .1), (10.27, .085), (10.36, .071), (10.45, .09), (10.54, .063),
         (10.63, .078), (10.71, .056), (10.8, .07), (10.89, .048), (10.98, .065), (11.07, .052),
         (11.16, .04), (11.25, .058), (11.34, .045), (11.43, .035), (11.52, .05), (11.61, .04),
         (11.7, .055), (11.79, .045), (11.88, .035), (11.96, .06), (12.05, .048), (12.14, .04),
         (12.23, .055), (12.32, .065), (12.41, .05), (12.5, .045), (12.59, .06), (12.68, .04),
         (12.77, .05), (12.86, .035), (12.95, .045), (13.04, .03), (13.13, .038), (13.21, .025),
         (13.3, .032), (13.39, .02), (13.48, .028), (13.57, .015), (13.66, .022), (13.75, .01),
         (13.84, .006), (13.93, .003), (14.0, .001)]
k_hist = [300, 1280, 1470, 1680, 1220, 860, 580]

titles = ["15th Nov", "16th Nov", "16th-17th Nov", "18th Nov", "19th-20th Nov", "21st-22nd Nov",
          "22nd Nov", "23rd Nov", "24th Nov", "24th Nov", "25th-26th Nov"]
letters = ["(a)", "(b)", "(c)", "(d)", "(e)", "(f)", "(g)", "(h)", "(i)", "(j)", "(k)"]
start_hours = [0, 0, 16, 1, 21, 23, 20, 3, 6, 16, 21]
spans = [10, 13.75, 9, 4, 12, 10, 3, 8, 8, 3, 15]
tick_steps = [3, 3, 3, 1, 3, 3, 1, 2, 2, 1, 3]
hist_times = ["6AM", "6AM", "9PM", "3AM", "6AM", "6AM", "9PM", "6AM", "9AM", "6PM", "6AM"]
hist_ranges = [0.125, 0.0302, 0.04, 0.2, 0.055, 0.05, 0.05, 0.06, 0.2, 0.02, 0.021]
hist_xlims = [0.12, 0.0302, 0.04, 0.2, 0.05, 0.05, 0.05, 0.059, 0.2, 0.02, 0.02]
hist_xticks = [[0, 0.1], [0, 0.02], [0, 0.02, 0.04], [0, 0.1, 0.2], [0, 0.025, 0.05],
               [0, 0.025, 0.05], [0, 0.025, 0.05], [0, 0.05], [0, 0.1, 0.2],
               [0, 0.01, 0.02], [0, 0.01, 0.02]]
hist_xdecimals = [1, 2, 2, 1, 3, 3, 3, 2, 1, 2, 2]
hist_yticks = [[0, 10000], [0, 5000], [0, 5000], [0, 10000], [0, 10000], [0, 10000],
               [0, 5000], [0, 10000], [0, 5000], [0, 1000], [0, 1000]]

series = {
    "a": (a_def, a_def_lo, a_def_hi, a_kap, a_kap_lo, a_kap_hi, a_arg, a_arg_lo, a_arg_hi, a_obs, a_zero, a_hist),
    "b": (b_def, b_def_lo, b_def_hi, b_kap, b_kap_lo, b_kap_hi, b_arg, b_arg_lo, b_arg_hi, b_obs, b_zero, b_hist),
    "c": (c_def, c_def_lo, c_def_hi, c_kap, c_kap_lo, c_kap_hi, c_arg, c_arg_lo, c_arg_hi, c_obs, c_zero, c_hist),
    "d": (d_def, d_def_lo, d_def_hi, d_kap, d_kap_lo, d_kap_hi, d_arg, d_arg_lo, d_arg_hi, d_obs, d_zero, d_hist),
    "e": (e_def, e_def_lo, e_def_hi, e_kap, e_kap_lo, e_kap_hi, e_arg, e_arg_lo, e_arg_hi, e_obs, e_zero, e_hist),
    "f": (f_def, f_def_lo, f_def_hi, f_kap, f_kap_lo, f_kap_hi, f_arg, f_arg_lo, f_arg_hi, f_obs, f_zero, f_hist),
    "g": (g_def, g_def_lo, g_def_hi, g_kap, g_kap_lo, g_kap_hi, g_arg, g_arg_lo, g_arg_hi, g_obs, g_zero, g_hist),
    "h": (h_def, h_def_lo, h_def_hi, h_kap, h_kap_lo, h_kap_hi, h_arg, h_arg_lo, h_arg_hi, h_obs, h_zero, h_hist),
    "i": (i_def, i_def_lo, i_def_hi, i_kap, i_kap_lo, i_kap_hi, i_arg, i_arg_lo, i_arg_hi, i_obs, i_zero, i_hist),
    "j": (j_def, j_def_lo, j_def_hi, j_kap, j_kap_lo, j_kap_hi, j_arg, j_arg_lo, j_arg_hi, j_obs, j_zero, j_hist),
    "k": (k_def, k_def_lo, k_def_hi, k_kap, k_kap_lo, k_kap_hi, k_arg, k_arg_lo, k_arg_hi, k_obs, k_zero, k_hist),
}

# ---------------------------------------------------------------------------
# layout (pixel positions of the 4x3 grid, inset boxes, letter positions)
# ---------------------------------------------------------------------------
W, H = 1052, 1057
col_left = [80, 417, 752]
row_bottom = [252, 513, 777, 1036]
ax_w, ax_h = 280, 218
inset_boxes = [[0.47, 0.77, 0.51, 0.20], [0.25, 0.77, 0.50, 0.19], [0.25, 0.77, 0.50, 0.20],
               [0.47, 0.77, 0.50, 0.20], [0.28, 0.77, 0.44, 0.20], [0.285, 0.77, 0.44, 0.20],
               [0.255, 0.77, 0.50, 0.20], [0.28, 0.77, 0.44, 0.20], [0.25, 0.77, 0.50, 0.21],
               [0.255, 0.77, 0.50, 0.20], [0.47, 0.77, 0.50, 0.20]]
letter_x = [0.036, 0.02, 0.045, 0.047, 0.03, 0.04, 0.06, 0.045, 0.046, 0.06, 0.02]

TEAL = "#008080"
PURPLE = "#6a1b9a"
PURPLE_FILL = "#742894"

fig = plt.figure(figsize=(W / 100, H / 100), dpi=100)

for n, key in enumerate("abcdefghijk"):
    dfn, dlo, dhi, kap, klo, khi, arg, alo, ahi, obs, zero, counts = series[key]
    r, c = divmod(n, 3)
    ax = fig.add_axes([col_left[c] / W, 1 - row_bottom[r] / H, ax_w / W, ax_h / H])
    t = np.arange(len(dfn))

    # shaded ranges: Mod-ARG, Def-ARG, Mod-Kappa
    ax.fill_between(t, alo, ahi, color="gray", alpha=0.4, lw=0)
    ax.fill_between(t, dlo, dhi, color=TEAL, alpha=0.4, lw=0)
    ax.fill_between(t, klo, khi, color=PURPLE_FILL, alpha=0.5, lw=0)

    ax.plot(t, kap, color=PURPLE, lw=2.5)
    ax.plot(t, arg, color="gray", ls="--", lw=1.6)
    ax.plot(t, dfn, color=TEAL, ls="-.", lw=2.5)

    for s, e in zero:
        ax.hlines(0, s, e, color="k", lw=4, zorder=4)
    ot = [p[0] for p in obs]
    ov = [p[1] for p in obs]
    ax.plot(ot, ov, "o", color="k", ms=4.3, mew=0, zorder=5)

    ax.set_xlim(0, spans[n])
    ax.set_ylim(0, 0.25)
    xt = np.arange(0, spans[n] + 0.01, tick_steps[n])
    ax.set_xticks(xt)
    ax.set_xticklabels([f"{int(start_hours[n] + h) % 24:02d}:00" for h in xt])
    yt = [0, 0.05, 0.10, 0.15, 0.20, 0.25]
    ax.set_yticks(yt)
    if c == 0:
        ax.set_yticklabels(["0"] + [f"{v:.2f}" for v in yt[1:]])
        ax.tick_params(axis="y", labelsize=9.5)
        ax.set_ylabel("LWC (g m$^{-3}$)", fontsize=14, labelpad=4)
    else:
        ax.set_yticklabels([f"{v:.2f}" for v in yt])
        ax.tick_params(axis="y", labelsize=11)
    ax.tick_params(axis="x", labelsize=9.5, pad=2)
    for side in ("top", "right"):
        ax.spines[side].set_color("#808080")
    ax.set_title(titles[n], fontsize=15, pad=5)
    ax.text(letter_x[n], 0.62, letters[n], transform=ax.transAxes, fontsize=15,
            va="center", ha="left", zorder=6)

    # inset histogram
    ins = ax.inset_axes(inset_boxes[n])
    ins.set_zorder(7)
    edges = np.linspace(0, hist_ranges[n], len(counts) + 1)
    ins.bar(edges[:-1], counts, width=np.diff(edges), align="edge", fill=False,
            edgecolor="#c4c4c4", linewidth=2.6)
    ins.bar(edges[:-1], counts, width=np.diff(edges), align="edge", color="#99cccc",
            edgecolor="#5a5a5a", linewidth=0.9)
    ins.set_xlim(0, hist_xlims[n])
    ins.set_xticks(hist_xticks[n])
    ins.set_xticklabels([f"{v:.{hist_xdecimals[n]}f}" for v in hist_xticks[n]])
    ins.set_yticks(hist_yticks[n])
    ins.tick_params(labelsize=11.5, pad=1, length=3)
    ins.set_ylabel("Gridboxes", fontsize=7.5, labelpad=1)
    ins.set_xlabel("LWC (g m$^{-3}$)", fontsize=8.5, labelpad=2)
    for sp in ins.spines.values():
        sp.set_color("#333333")
    ins.text(0.7, 0.72, hist_times[n], transform=ins.transAxes, fontsize=8.5,
             ha="center", va="center")

handles = [Line2D([], [], marker=".", ls="none", color="k", ms=8),
           Line2D([], [], color=TEAL, ls="-.", lw=2.5),
           Line2D([], [], color=PURPLE, lw=2.5),
           Line2D([], [], color="gray", ls="--", lw=1.6)]
fig.legend(handles, ["Obs", "Def-ARG", "Mod-Kappa", "Mod-ARG"], loc="upper left",
           bbox_to_anchor=(765 / W, 1 - 852 / H), fontsize=15, shadow=True, fancybox=True,
           framealpha=1, handlelength=2.2, borderpad=0.4, labelspacing=0.3,
           borderaxespad=0)

fig.savefig("out.png", dpi=100)
